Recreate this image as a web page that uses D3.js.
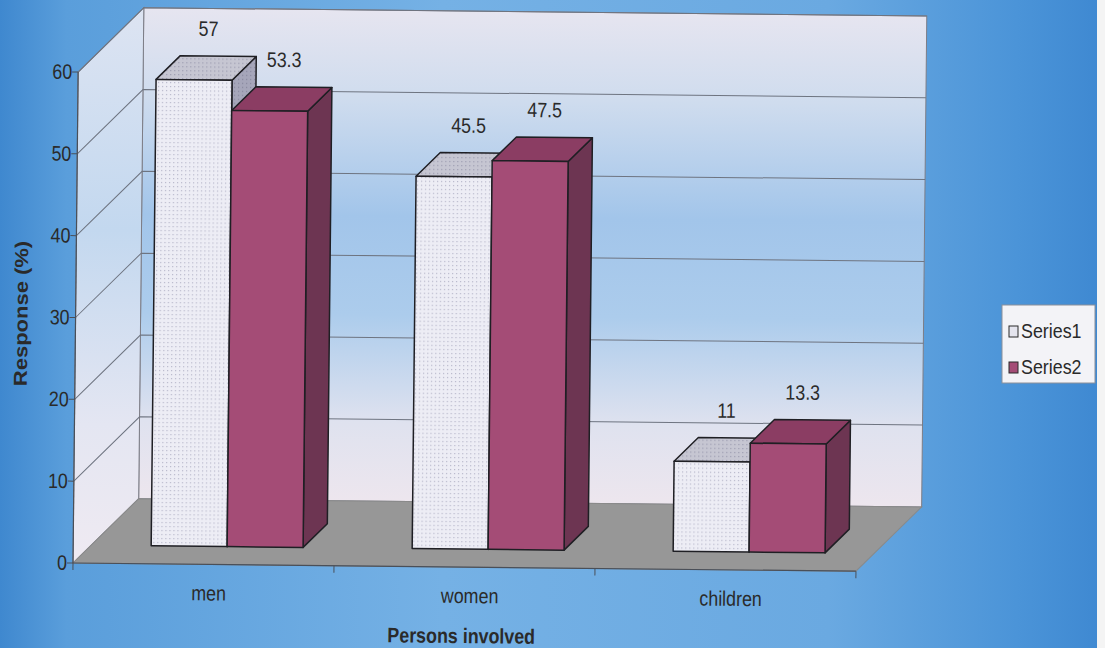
<!DOCTYPE html>
<html>
<head>
<meta charset="utf-8">
<script src="https://cdn.jsdelivr.net/npm/d3@7"></script>
<style>
  html, body { margin: 0; padding: 0; background: #ffffff; }
  text { font-family: "Liberation Sans", Arial, sans-serif; fill: #2a2a2a; }
</style>
</head>
<body>
<div id="chart"></div>
<script>
// chart data
var categories = ["men", "women", "children"];
var seriesNames = ["Series1", "Series2"];
var series1 = [57, 45.5, 11];
var series2 = [53.3, 47.5, 13.3];
var yTicks = [0, 10, 20, 30, 40, 50, 60];

var rows = categories.map(function (c, i) {
    return { cat: c, values: [
        { s: "Series1", v: series1[i] },
        { s: "Series2", v: series2[i] }
    ] };
});

// formatting parameters
var W = 1105, H = 648;
var originX = 73, floorY = 563;     // front-left floor corner
var plotW = 783;                    // front floor edge length
var depth = 65;                     // wall depth (45 degrees)
var barFront = 18, barDepth = 24;   // bar position in depth
var squeeze = 0.85;                 // glyphs look horizontally narrow

var svg = d3.select("#chart")
    .append("svg")
    .attr("width", W)
    .attr("height", H);

var defs = svg.append("defs");

// page background
var bg = defs.append("linearGradient").attr("id", "bg")
    .attr("x1", 0).attr("x2", 1).attr("y1", 0).attr("y2", 0);
[[0, "#3f88cf"], [0.06, "#5a9edb"], [0.4, "#75b1e5"], [0.75, "#6aa9e1"], [0.92, "#4b94d8"], [1, "#3e88d1"]]
    .forEach(function (s) { bg.append("stop").attr("offset", s[0]).attr("stop-color", s[1]); });

// back wall gradient
var wall = defs.append("linearGradient").attr("id", "wall")
    .attr("x1", 0).attr("x2", 0).attr("y1", 0).attr("y2", 1);
[[0, "#e6e5f0"], [0.18, "#cfdcee"], [0.42, "#a2c5ea"], [0.62, "#acccec"], [0.84, "#dfe2ef"], [1, "#ede6ee"]]
    .forEach(function (s) { wall.append("stop").attr("offset", s[0]).attr("stop-color", s[1]); });

var lwall = defs.append("linearGradient").attr("id", "lwall")
    .attr("x1", 0).attr("x2", 0).attr("y1", 0).attr("y2", 1);
[[0, "#dde4f2"], [0.4, "#c3d8ef"], [0.75, "#e4e6f2"], [1, "#efeaf2"]]
    .forEach(function (s) { lwall.append("stop").attr("offset", s[0]).attr("stop-color", s[1]); });

// dotted texture for Series1 faces
function dotPattern(id, base, dot) {
    var p = defs.append("pattern").attr("id", id)
        .attr("patternUnits", "userSpaceOnUse")
        .attr("width", 4).attr("height", 4);
    p.append("rect").attr("width", 4).attr("height", 4).attr("fill", base);
    p.append("rect").attr("x", 1).attr("y", 1).attr("width", 1.2).attr("height", 1.2).attr("fill", dot);
}
dotPattern("s1front", "#ededf5", "#b9b9cc");
dotPattern("s1top", "#c6c6d2", "#9c9cb0");
dotPattern("s1side", "#a6a6ba", "#86869c");

var faces = {
    Series1: { front: "url(#s1front)", top: "url(#s1top)", side: "url(#s1side)" },
    Series2: { front: "#a44c76", top: "#8b3d63", side: "#6d3552" }
};

svg.append("rect").attr("width", W).attr("height", H).attr("fill", "url(#bg)");
svg.append("rect").attr("x", 1097).attr("width", W - 1097).attr("height", H).attr("fill", "#f4f4f4");

// the photographed page is slightly tilted
var g = svg.append("g")
    .attr("transform", "rotate(0.6," + originX + "," + floorY + ")");

// scales
var x = d3.scaleBand()
    .domain(categories)
    .range([originX, originX + plotW])
    .paddingInner(0.418)
    .paddingOuter(0.209)
    .align(0.55);
var xs = d3.scaleBand()
    .domain(seriesNames)
    .range([0, x.bandwidth()]);
var y = d3.scaleLinear()
    .domain([0, 60])
    .range([floorY, floorY - 491]);

function pts(a) { return a.map(function (p) { return p.join(","); }).join(" "); }

// walls
var yTop = y(60);
g.append("polygon")
    .attr("points", pts([[originX + depth, yTop - depth], [originX + depth + plotW, yTop - depth],
        [originX + depth + plotW, floorY - depth], [originX + depth, floorY - depth]]))
    .attr("fill", "url(#wall)")
    .attr("stroke", "#7d7d86").attr("stroke-width", 1);
g.append("polygon")
    .attr("points", pts([[originX, floorY], [originX, yTop], [originX + depth, yTop - depth], [originX + depth, floorY - depth]]))
    .attr("fill", "url(#lwall)")
    .attr("stroke", "#7d7d86").attr("stroke-width", 1);

// gridlines on both walls
yTicks.forEach(function (t) {
    if (t === 0) return;
    g.append("polyline")
        .attr("points", pts([[originX, y(t)], [originX + depth, y(t) - depth], [originX + depth + plotW, y(t) - depth]]))
        .attr("fill", "none")
        .attr("stroke", "#6e7480")
        .attr("stroke-width", 1);
});

// floor
g.append("polygon")
    .attr("points", pts([[originX, floorY], [originX + plotW, floorY],
        [originX + plotW + depth, floorY - depth], [originX + depth, floorY - depth]]))
    .attr("fill", "#979797")
    .attr("stroke", "#8a8a8a").attr("stroke-width", 1);

// axis lines and ticks
g.append("line")
    .attr("x1", originX).attr("x2", originX)
    .attr("y1", floorY).attr("y2", yTop)
    .attr("stroke", "#4a4f58").attr("stroke-width", 1.2);
g.append("line")
    .attr("x1", originX).attr("x2", originX + plotW)
    .attr("y1", floorY).attr("y2", floorY)
    .attr("stroke", "#4a4f58").attr("stroke-width", 1.2);
yTicks.forEach(function (t) {
    g.append("line")
        .attr("x1", originX - 6).attr("x2", originX)
        .attr("y1", y(t)).attr("y2", y(t))
        .attr("stroke", "#4a4f58");
});
var xTicks = [originX].concat(categories.map(function (c) { return originX + (categories.indexOf(c) + 1) * x.step(); }));
xTicks.forEach(function (tx) {
    g.append("line")
        .attr("x1", tx).attr("x2", tx)
        .attr("y1", floorY).attr("y2", floorY + 7)
        .attr("stroke", "#4a4f58");
});

function label(parent, px, py, str, size, bold, anchor, rot) {
    return parent.append("text")
        .attr("transform", "translate(" + px + "," + py + ") scale(" + squeeze + ",1)" + (rot ? " rotate(" + rot + ")" : ""))
        .attr("text-anchor", anchor || "middle")
        .style("font-size", size + "px")
        .style("font-weight", bold ? "bold" : "normal")
        .text(str);
}

// y tick labels
yTicks.forEach(function (t) {
    label(g, originX - 6, y(t) + 7, t, 21, false, "end");
});

// bars: Series1 first so Series2 hides its side
rows.forEach(function (r) {
    r.values.forEach(function (d) {
        var x0 = x(r.cat) + xs(d.s) + barFront;
        var w = xs.bandwidth();
        var yb = y(0) - barFront;
        var yt = y(d.v) - barFront;
        var k = barDepth;
        var f = faces[d.s];
        var bar = g.append("g")
            .attr("stroke", "#1f1f24")
            .attr("stroke-width", 1.5)
            .attr("stroke-linejoin", "round");
        bar.append("polygon")
            .attr("points", pts([[x0 + w, yt], [x0 + w + k, yt - k], [x0 + w + k, yb - k], [x0 + w, yb]]))
            .attr("fill", f.side);
        bar.append("polygon")
            .attr("points", pts([[x0, yt], [x0 + w, yt], [x0 + w + k, yt - k], [x0 + k, yt - k]]))
            .attr("fill", f.top);
        bar.append("rect")
            .attr("x", x0).attr("y", yt)
            .attr("width", w).attr("height", yb - yt)
            .attr("fill", f.front);

        // value label
        label(g, x0 + w / 2 + 14, yt - 44, d.v, 21, false, "middle");
    });
});

// category labels
categories.forEach(function (c) {
    label(g, x(c) + x.bandwidth() / 2, 599, c, 21, false, "middle");
});

// axis titles
label(g, 462, 639, "Persons involved", 21, true, "middle");
label(g, 25, 314, "Response (%)", 22, true, "middle", -90);

// legend
var leg = svg.append("g");
leg.append("rect")
    .attr("x", 1002).attr("y", 305)
    .attr("width", 93).attr("height", 78)
    .attr("fill", "#f3f3f7")
    .attr("stroke", "#8b8f99").attr("stroke-width", 1);
seriesNames.forEach(function (s, i) {
    leg.append("rect")
        .attr("x", 1009).attr("y", 326 + i * 36)
        .attr("width", 9).attr("height", 11)
        .attr("fill", s === "Series1" ? "#e4e4ee" : "#a44c76")
        .attr("stroke", "#2a2a2a").attr("stroke-width", 1);
    label(leg, 1021, 338 + i * 36, s, 21, false, "start");
});
</script>
</body>
</html>
